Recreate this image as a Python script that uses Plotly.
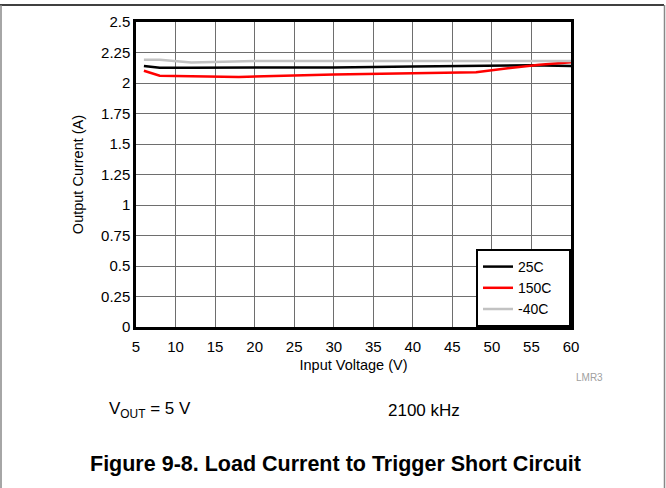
import plotly.graph_objects as go

# ---- data ----
v_25 = [6, 8, 12, 20, 30, 40, 50, 55, 60]
i_25 = [2.14, 2.125, 2.125, 2.125, 2.128, 2.135, 2.145, 2.145, 2.14]

v_150 = [6, 8, 18, 30, 40, 48, 52, 56, 60]
i_150 = [2.10, 2.06, 2.05, 2.07, 2.08, 2.088, 2.12, 2.15, 2.17]

v_m40 = [6, 8, 12, 20, 30, 40, 50, 60]
i_m40 = [2.19, 2.19, 2.168, 2.18, 2.18, 2.178, 2.18, 2.18]

series_names = ["25C", "150C", "-40C"]

x_ticks = [5, 10, 15, 20, 25, 30, 35, 40, 45, 50, 55, 60]
y_ticks = [0, 0.25, 0.5, 0.75, 1, 1.25, 1.5, 1.75, 2, 2.25, 2.5]
y_tick_labels = ["0", "0.25", "0.5", "0.75", "1", "1.25", "1.5", "1.75", "2", "2.25", "2.5"]

W, H = 666, 488
L, R, T, B = 136, 571, 22, 327  # plot area in pixels


def px(x):
    return (x - L) / (R - L)


def py(y):
    return (B - y) / (B - T)


FONT = "Liberation Sans, Arial, sans-serif"
PAD = "\u00a0\u00a0\u00a0"

fig = go.Figure()
fig.add_trace(go.Scatter(x=v_25, y=i_25, mode="lines", name=series_names[0] + PAD,
                         line=dict(color="black", width=2.5)))
fig.add_trace(go.Scatter(x=v_150, y=i_150, mode="lines", name=series_names[1] + PAD,
                         line=dict(color="#ff0000", width=2.5)))
fig.add_trace(go.Scatter(x=v_m40, y=i_m40, mode="lines", name=series_names[2] + PAD,
                         line=dict(color="#c2c2c2", width=2.5)))

axis_common = dict(showline=True, linecolor="black", linewidth=2.5, mirror=True,
                   showgrid=True, gridcolor="#6e6e6e", gridwidth=1.3, zeroline=False,
                   ticks="", tickfont=dict(family=FONT, size=15, color="black"))

fig.update_xaxes(range=[5, 60], tickvals=x_ticks, ticktext=[str(t) for t in x_ticks],
                 ticklabelstandoff=4,
                 title=dict(text="Input Voltage (V)", font=dict(family=FONT, size=14.5, color="black"),
                            standoff=7),
                 **axis_common)
fig.update_yaxes(range=[0, 2.5], tickvals=y_ticks, ticktext=y_tick_labels,
                 title=dict(text="Output Current (A)", font=dict(family=FONT, size=14.5, color="black"),
                            standoff=14),
                 **axis_common)

shapes = [
    dict(type="line", xref="paper", yref="paper", x0=px(0), x1=px(664), y0=py(5), y1=py(5),
         line=dict(color="black", width=1.5)),
    dict(type="line", xref="paper", yref="paper", x0=px(1), x1=px(1), y0=py(5), y1=py(488),
         line=dict(color="#888888", width=1.5)),
    dict(type="line", xref="paper", yref="paper", x0=px(664.5), x1=px(664.5), y0=py(5), y1=py(488),
         line=dict(color="#888888", width=1.5)),
]

annotations = [
    dict(text="V<sub>OUT</sub> = 5 V", xref="paper", yref="paper", x=px(107), y=py(410),
         xanchor="left", yanchor="middle", showarrow=False,
         font=dict(family=FONT, size=17, color="black")),
    dict(text="2100 kHz", xref="paper", yref="paper", x=px(386), y=py(410),
         xanchor="left", yanchor="middle", showarrow=False,
         font=dict(family=FONT, size=17, color="black")),
    dict(text="<b>Figure 9-8. Load Current to Trigger Short Circuit</b>", xref="paper", yref="paper",
         x=px(335), y=py(464), xanchor="center", yanchor="middle", showarrow=False,
         font=dict(family=FONT, size=21.5, color="black")),
    dict(text="LMR3", xref="paper", yref="paper", x=px(605), y=py(377),
         xanchor="right", yanchor="middle", showarrow=False,
         font=dict(family=FONT, size=10, color="#a0a0a0")),
]

fig.update_layout(
    width=W, height=H,
    margin=dict(l=L, r=W - R, t=T, b=H - B, pad=0),
    paper_bgcolor="white", plot_bgcolor="white",
    showlegend=True,
    legend=dict(x=1, y=0, xanchor="right", yanchor="bottom",
                bgcolor="white", bordercolor="black", borderwidth=2,
                font=dict(family=FONT, size=14, color="black"),
                itemwidth=30, tracegroupgap=0),
    shapes=shapes, annotations=annotations,
)

fig.write_html("out.html", config={"displayModeBar": False},
               post_script="document.body.style.margin='0';")
